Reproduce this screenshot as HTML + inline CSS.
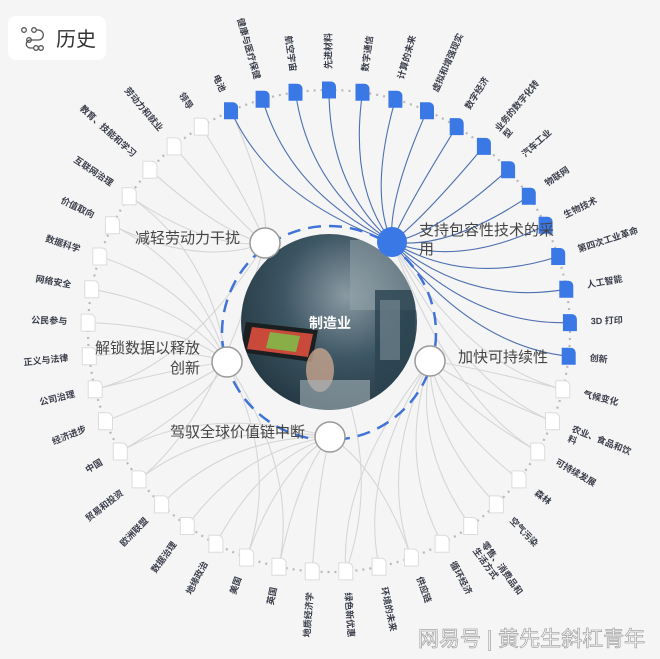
<!DOCTYPE html>
<html><head><meta charset="utf-8"><style>
html,body{margin:0;padding:0;background:#f5f5f6;}
svg{display:block;font-family:"Liberation Sans","Noto Sans CJK SC",sans-serif;}
.lb{font-size:9px;fill:#3a3d4a;font-weight:bold;}
.hl{font-size:15px;fill:#444;}
.b{stroke:#4d6fb0;stroke-width:1.1;fill:none;}
.g{stroke:#d6d6d6;stroke-width:1.1;fill:none;}
</style></head><body>
<svg width="660" height="659" viewBox="0 0 660 659">
<defs>
<path id="n" d="M-7,-8.5 h9 a5,5 0 0 1 5,5 v12 h-14z"/>
<radialGradient id="pg" cx="0.6" cy="0.35" r="0.8">
<stop offset="0" stop-color="#8a9aa3"/><stop offset="0.45" stop-color="#3d5663"/><stop offset="1" stop-color="#1c2f38"/>
</radialGradient>
<clipPath id="pc"><circle cx="329" cy="322" r="88"/></clipPath>
</defs>
<rect width="660" height="659" fill="#f5f5f6"/>

<!-- outer dotted ring -->
<circle cx="329" cy="331" r="241" fill="none" stroke="#b8b8b8" stroke-width="2.2" stroke-dasharray="2 5"/>

<!-- gray connectors -->
<g class="g">
<path d="M430,361 Q469.3,366.0 562.8,389.3"/>
<path d="M430,361 Q463.1,385.2 552.5,421.3"/>
<path d="M430,361 Q454.2,403.3 537.7,451.5"/>
<path d="M430,361 Q442.9,420.0 518.9,479.4"/>
<path d="M430,361 Q429.4,435.0 496.4,504.4"/>
<path d="M430,361 Q414.0,448.0 470.7,526.0"/>
<path d="M430,361 Q396.9,458.7 442.1,543.8"/>
<path d="M430,361 Q378.4,466.9 411.4,557.5"/>
<path d="M430,361 Q359.1,472.4 379.1,566.7"/>
<path d="M430,361 Q339.1,475.2 345.8,571.4"/>
<path d="M330,437 Q318.9,475.2 312.2,571.4"/>
<path d="M330,437 Q298.9,472.4 278.9,566.7"/>
<path d="M330,437 Q279.6,466.9 246.6,557.5"/>
<path d="M330,437 Q261.1,458.7 215.9,543.8"/>
<path d="M330,437 Q244.0,448.0 187.3,526.0"/>
<path d="M330,437 Q228.6,435.0 161.6,504.4"/>
<path d="M330,437 Q215.1,420.0 139.1,479.4"/>
<path d="M330,437 Q203.8,403.3 120.3,451.5"/>
<path d="M330,437 Q378.4,466.9 411.4,557.5"/>
<path d="M227,362 Q194.9,385.2 105.5,421.3"/>
<path d="M227,362 Q188.7,366.0 95.2,389.3"/>
<path d="M227,362 Q185.2,346.1 89.3,356.2"/>
<path d="M227,362 Q184.5,326.0 88.1,322.6"/>
<path d="M227,362 Q186.6,305.9 91.7,289.2"/>
<path d="M227,362 Q191.5,286.3 99.8,256.5"/>
<path d="M227,362 Q199.0,267.6 112.4,225.3"/>
<path d="M227,362 Q209.1,250.1 129.2,196.2"/>
<path d="M227,362 Q279.6,466.9 246.6,557.5"/>
<path d="M227,362 Q298.9,472.4 278.9,566.7"/>
<path d="M227,362 Q203.8,403.3 120.3,451.5"/>
<path d="M265,243 Q221.5,234.2 149.9,169.7"/>
<path d="M265,243 Q236.1,220.2 174.1,146.4"/>
<path d="M265,243 Q252.4,208.4 201.3,126.6"/>
<path d="M265,243 Q209.1,250.1 129.2,196.2"/>
<path d="M265,243 Q199.0,267.6 112.4,225.3"/>
<path d="M265,243 Q215.1,420.0 139.1,479.4"/>
<path d="M265,243 Q188.7,366.0 95.2,389.3"/>
<path d="M265,243 Q270.2,198.9 231.0,110.8"/>
<path d="M265,243 Q400,420 345.8,571.4"/>
<path d="M392,242 Q469.3,366.0 562.8,389.3"/>
<path d="M392,242 Q463.1,385.2 552.5,421.3"/>
<path d="M392,242 Q454.2,403.3 537.7,451.5"/>
</g>

<!-- blue connectors -->
<g class="b">
<path d="M392,242 Q270.2,198.9 231.0,110.8"/>
<path d="M392,242 Q289.2,192.0 262.6,99.3"/>
<path d="M392,242 Q308.9,187.8 295.5,92.3"/>
<path d="M392,242 Q329,186.4 329,90"/>
<path d="M392,242 Q349.1,187.8 362.5,92.3"/>
<path d="M392,242 Q368.8,192.0 395.4,99.3"/>
<path d="M392,242 Q387.8,198.9 427.0,110.8"/>
<path d="M392,242 Q405.6,208.4 456.7,126.6"/>
<path d="M392,242 Q421.9,220.2 483.9,146.4"/>
<path d="M392,242 Q436.5,234.2 508.1,169.7"/>
<path d="M392,242 Q448.9,250.1 528.8,196.2"/>
<path d="M392,242 Q459.0,267.6 545.6,225.3"/>
<path d="M392,242 Q466.5,286.3 558.2,256.5"/>
<path d="M392,242 Q471.4,305.9 566.3,289.2"/>
<path d="M392,242 Q473.5,326.0 569.9,322.6"/>
<path d="M392,242 Q472.8,346.1 568.7,356.2"/>
</g>

<!-- nodes -->
<g fill="#3a78e6">
<use href="#n" x="231.0" y="110.8"/><use href="#n" x="262.6" y="99.3"/><use href="#n" x="295.5" y="92.3"/><use href="#n" x="329" y="90"/>
<use href="#n" x="362.5" y="92.3"/><use href="#n" x="395.4" y="99.3"/><use href="#n" x="427.0" y="110.8"/><use href="#n" x="456.7" y="126.6"/>
<use href="#n" x="483.9" y="146.4"/><use href="#n" x="508.1" y="169.7"/><use href="#n" x="528.8" y="196.2"/><use href="#n" x="545.6" y="225.3"/>
<use href="#n" x="558.2" y="256.5"/><use href="#n" x="566.3" y="289.2"/><use href="#n" x="569.9" y="322.6"/><use href="#n" x="568.7" y="356.2"/>
</g>
<g fill="#fff" stroke="#dcdcdc" stroke-width="1">
<use href="#n" x="562.8" y="389.3"/><use href="#n" x="552.5" y="421.3"/><use href="#n" x="537.7" y="451.5"/><use href="#n" x="518.9" y="479.4"/>
<use href="#n" x="496.4" y="504.4"/><use href="#n" x="470.7" y="526.0"/><use href="#n" x="442.1" y="543.8"/><use href="#n" x="411.4" y="557.5"/>
<use href="#n" x="379.1" y="566.7"/><use href="#n" x="345.8" y="571.4"/><use href="#n" x="312.2" y="571.4"/><use href="#n" x="278.9" y="566.7"/>
<use href="#n" x="246.6" y="557.5"/><use href="#n" x="215.9" y="543.8"/><use href="#n" x="187.3" y="526.0"/><use href="#n" x="161.6" y="504.4"/>
<use href="#n" x="139.1" y="479.4"/><use href="#n" x="120.3" y="451.5"/><use href="#n" x="105.5" y="421.3"/><use href="#n" x="95.2" y="389.3"/>
<use href="#n" x="89.3" y="356.2"/><use href="#n" x="88.1" y="322.6"/><use href="#n" x="91.7" y="289.2"/><use href="#n" x="99.8" y="256.5"/>
<use href="#n" x="112.4" y="225.3"/><use href="#n" x="129.2" y="196.2"/><use href="#n" x="149.9" y="169.7"/><use href="#n" x="174.1" y="146.4"/>
<use href="#n" x="201.3" y="126.6"/>
</g>

<!-- labels -->
<g class="lb" dominant-baseline="middle">
<text text-anchor="end" transform="translate(222.4,91.7) rotate(66)">电池</text>
<text text-anchor="end" transform="translate(256.8,79.1) rotate(74)">健康与医疗保健</text>
<text text-anchor="end" transform="translate(292.5,71.5) rotate(82)">航空宇宙</text>
<text transform="translate(329,69) rotate(-90)">先进材料</text>
<text transform="translate(365.5,71.5) rotate(-82)">数字通信</text>
<text transform="translate(401.2,79.1) rotate(-74)">计算的未来</text>
<text transform="translate(435.6,91.7) rotate(-66)">虚拟和增强现实</text>
<text transform="translate(467.8,108.8) rotate(-58)">数字经济</text>
<text transform="translate(497.4,130.3) rotate(-50)">业务的数字化转<tspan x="0" dy="11">型</tspan></text>
<text transform="translate(523.7,155.7) rotate(-42)">汽车工业</text>
<text transform="translate(546.2,184.5) rotate(-34)">物联网</text>
<text transform="translate(564.5,216.1) rotate(-26)">生物技术</text>
<text transform="translate(578.2,250.0) rotate(-18)">第四次工业革命</text>
<text transform="translate(587.0,285.5) rotate(-10)">人工智能</text>
<text transform="translate(590.8,321.9) rotate(-2)">3D 打印</text>
<text transform="translate(589.6,358.4) rotate(6)">创新</text>
<text transform="translate(583.2,394.4) rotate(14)">气候变化</text>
<text transform="translate(571.9,429.1) rotate(22)">农业、食品和饮<tspan x="0" dy="11">料</tspan></text>
<text transform="translate(555.9,462) rotate(30)">可持续发展</text>
<text transform="translate(535.5,492.3) rotate(38)">森林</text>
<text transform="translate(511.0,519.5) rotate(46)">空气污染</text>
<text transform="translate(483.0,543.0) rotate(54)">零售、消费品和<tspan x="0" dy="11">生活方式</tspan></text>
<text transform="translate(452.0,562.3) rotate(62)">循环经济</text>
<text transform="translate(418.6,577.2) rotate(70)">供应链</text>
<text transform="translate(383.5,587.3) rotate(78)">环境的未来</text>
<text transform="translate(347.3,592.4) rotate(86)">绿色新优惠</text>
<text text-anchor="end" transform="translate(310.7,592.4) rotate(-86)">地质经济学</text>
<text text-anchor="end" transform="translate(274.5,587.3) rotate(-78)">英国</text>
<text text-anchor="end" transform="translate(239.4,577.2) rotate(-70)">美国</text>
<text text-anchor="end" transform="translate(206.0,562.3) rotate(-62)">地缘政治</text>
<text text-anchor="end" transform="translate(175.0,543.0) rotate(-54)">数据治理</text>
<text text-anchor="end" transform="translate(147.0,519.5) rotate(-46)">欧洲联盟</text>
<text text-anchor="end" transform="translate(122.5,492.3) rotate(-38)">贸易和投资</text>
<text text-anchor="end" transform="translate(102.1,462) rotate(-30)">中国</text>
<text text-anchor="end" transform="translate(86.1,429.1) rotate(-22)">经济进步</text>
<text text-anchor="end" transform="translate(74.8,394.4) rotate(-14)">公司治理</text>
<text text-anchor="end" transform="translate(68.4,358.4) rotate(-6)">正义与法律</text>
<text text-anchor="end" transform="translate(67.2,321.9) rotate(2)">公民参与</text>
<text text-anchor="end" transform="translate(71.0,285.5) rotate(10)">网络安全</text>
<text text-anchor="end" transform="translate(79.8,250.0) rotate(18)">数据科学</text>
<text text-anchor="end" transform="translate(93.5,216.1) rotate(26)">价值取向</text>
<text text-anchor="end" transform="translate(111.8,184.5) rotate(34)">互联网治理</text>
<text text-anchor="end" transform="translate(134.3,155.7) rotate(42)">教育、技能和学习</text>
<text text-anchor="end" transform="translate(160.6,130.3) rotate(50)">劳动力和就业</text>
<text text-anchor="end" transform="translate(190.2,108.8) rotate(58)">领导</text>
</g>

<!-- dashed inner circle -->
<circle cx="329" cy="333" r="107" fill="none" stroke="#3f73d6" stroke-width="2.5" stroke-dasharray="13 8"/>

<!-- photo -->
<circle cx="329" cy="322" r="88" fill="url(#pg)"/>
<g clip-path="url(#pc)">
<rect x="350" y="240" width="80" height="70" fill="#9aa7ad" opacity="0.5"/>
<rect x="375" y="290" width="40" height="120" fill="#2b4450" opacity="0.8"/>
<rect x="380" y="300" width="20" height="60" fill="#7d8f98" opacity="0.6"/>
<polygon points="246,322 318,330 312,362 240,352" fill="#1a1f22"/>
<polygon points="252,327 313,334 308,357 247,349" fill="#c94a3a"/>
<polygon points="270,332 300,336 296,352 266,348" fill="#7fbf4a" opacity="0.85"/>
<ellipse cx="320" cy="370" rx="14" ry="22" fill="#c8a58f" opacity="0.8"/>
<rect x="300" y="380" width="70" height="40" fill="#a7b4bb" opacity="0.6"/>
</g>
<text x="330" y="328" text-anchor="middle" font-size="14" font-weight="bold" fill="#fff">制造业</text>

<!-- hubs -->
<circle cx="392" cy="242" r="15" fill="#3a78e6"/>
<g fill="#fff" stroke="#999" stroke-width="1.5">
<circle cx="265" cy="243" r="15"/>
<circle cx="430" cy="361" r="15"/>
<circle cx="330" cy="437" r="15"/>
<circle cx="227" cy="362" r="15"/>
</g>
<g class="hl">
<text x="240" y="243" text-anchor="end">减轻劳动力干扰</text>
<text x="419" y="235">支持包容性技术的采</text>
<text x="419" y="254">用</text>
<text x="458" y="362">加快可持续性</text>
<text x="305" y="437" text-anchor="end">驾驭全球价值链中断</text>
<text x="200" y="353" text-anchor="end">解锁数据以释放</text>
<text x="200" y="373" text-anchor="end">创新</text>
</g>

<!-- badge -->
<rect x="8" y="16" width="98" height="44" rx="8" fill="#fff"/>
<g fill="none" stroke="#555" stroke-width="1.3">
<circle cx="24" cy="30" r="2.3"/><circle cx="34" cy="30" r="2.3"/>
<path d="M36.3,30 h2 a5,5 0 0 1 0,10 h-8 a4,4 0 0 0 0,8 h4"/>
<circle cx="29" cy="40" r="2.3"/><circle cx="36" cy="48" r="2.3"/><circle cx="41" cy="48" r="2.3"/>
</g>
<text x="56" y="46" font-size="20" fill="#333">历史</text>

<!-- watermark -->
<text x="418" y="646" font-size="21" fill="#fff" stroke="#a8a8a8" stroke-width="0.8">网易号 | 黄先生斜杠青年</text>
</svg>
</body></html>
